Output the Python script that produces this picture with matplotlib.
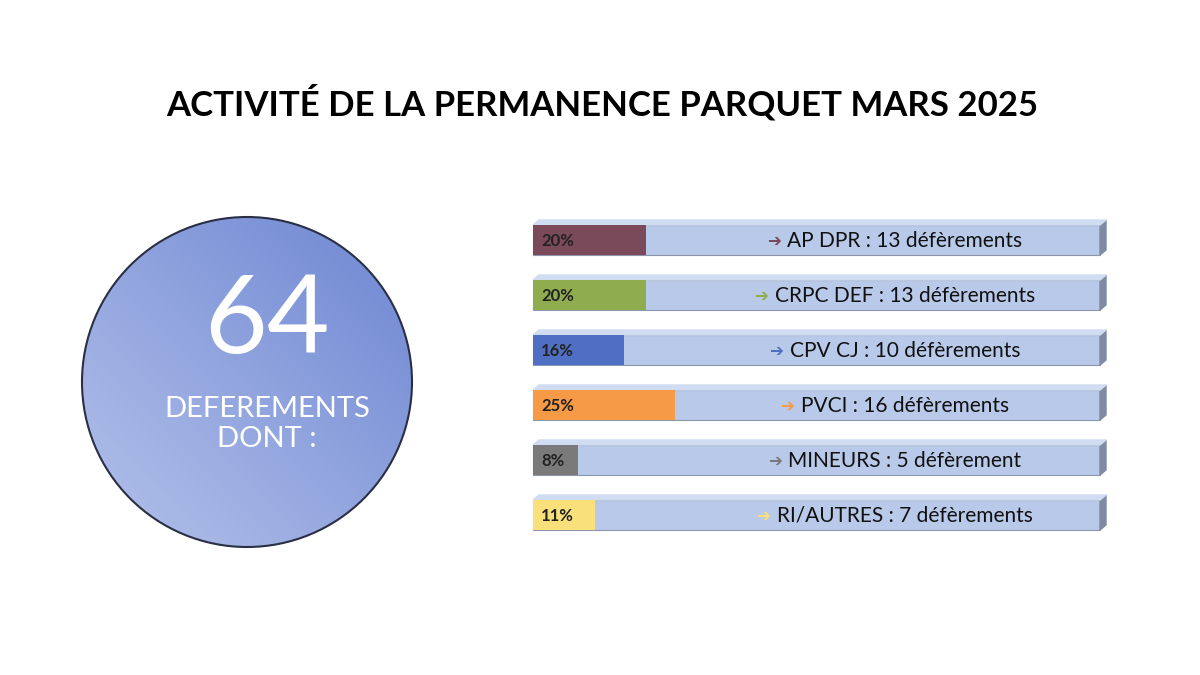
import numpy as np
import matplotlib.pyplot as plt
from matplotlib.patches import Circle, Polygon
from matplotlib.colors import LinearSegmentedColormap

TITLE = 'ACTIVITÉ DE LA PERMANENCE PARQUET MARS 2025'
TOTAL = 64
labels = ['AP DPR : 13 défèrements', 'CRPC DEF : 13 défèrements', 'CPV CJ : 10 défèrements',
          'PVCI : 16 défèrements', 'MINEURS : 5 défèrement', 'RI/AUTRES : 7 défèrements']
pcts = [20, 20, 16, 25, 8, 11]
colors = ['#7b4a5a', '#8fad4f', '#4f6fc4', '#f79a45', '#7a7a7a', '#f9e07a']

plt.rcParams['font.family'] = ['Lato', 'DejaVu Sans']

fig = plt.figure(figsize=(12, 6.75), dpi=100)
ax = fig.add_axes([0, 0, 1, 1])
ax.set_xlim(0, 1200)
ax.set_ylim(675, 0)
ax.axis('off')

ax.text(602, 103, TITLE, ha='center', va='center', fontsize=25, fontweight='bold', color='black')

# circle with gradient
cx, cy, r = 247, 382, 165
gx, gy = np.meshgrid(np.linspace(0, 1, 200), np.linspace(0, 1, 200))
grad = (gx + (1 - gy)) / 2
cmap = LinearSegmentedColormap.from_list('c', ['#b4c2ea', '#6d86d2'])
im = ax.imshow(grad, cmap=cmap, extent=(cx - r, cx + r, cy + r, cy - r), zorder=1)
circ = Circle((cx, cy), r, facecolor='none', edgecolor='#2a2f45', lw=1.5, zorder=2)
ax.add_patch(circ)
im.set_clip_path(circ)
ax.text(cx + 20, 322, str(TOTAL), ha='center', va='center', fontsize=78, color='white', zorder=3)
ax.text(cx + 20, 424, 'DEFEREMENTS\nDONT :', ha='center', va='center', fontsize=21,
        color='white', linespacing=1.15, zorder=3)

# bars
x0, w, h = 533, 567, 30
ys = [240 + 55 * i for i in range(len(pcts))]
ax.barh(ys, [w] * len(ys), left=x0, height=h, color='#b8c9e9', edgecolor='#8c97ad', lw=0.8, zorder=2)
ax.barh(ys, [w * p / 100 for p in pcts], left=x0, height=h, color=colors, zorder=3)
for y, p, lab, c in zip(ys, pcts, labels, colors):
    ax.add_patch(Polygon([(x0 + w, y - h / 2), (x0 + w + 6, y - h / 2 - 5),
                          (x0 + w + 6, y + h / 2 - 5), (x0 + w, y + h / 2)],
                         closed=True, color='#7f8ba3', zorder=2))
    ax.add_patch(Polygon([(x0, y - h / 2), (x0 + 6, y - h / 2 - 5),
                          (x0 + w + 6, y - h / 2 - 5), (x0 + w, y - h / 2)],
                         closed=True, color='#d0dcf2', zorder=2))
    ax.text(x0 + 8, y + 1, f'{p}%', ha='left', va='center', fontsize=12,
            fontweight='bold', color='#222222', zorder=4)
    t = ax.text(905, y + 1, lab, ha='center', va='center', fontsize=15, color='#111111', zorder=4)
    ax.annotate('➔', xy=(0, 0.5), xycoords=t, xytext=(-5, 0), textcoords='offset points',
                ha='right', va='center', fontsize=12, color=c, family='DejaVu Sans', zorder=4)

fig.savefig('out.png', dpi=100)
